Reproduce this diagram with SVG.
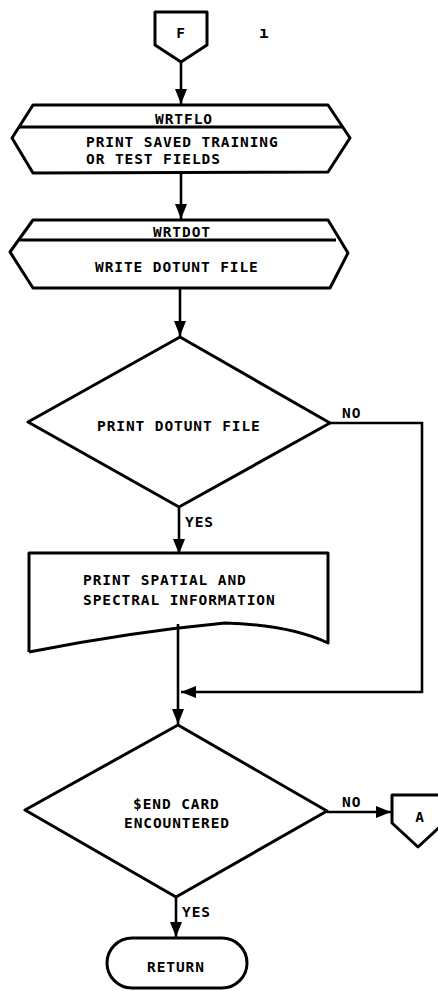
<svg xmlns="http://www.w3.org/2000/svg" width="438" height="991" viewBox="0 0 438 991">
<style>
.shape{fill:none;stroke:#000;stroke-width:3;stroke-linejoin:round}
.line{fill:none;stroke:#000;stroke-width:2.6}
.t{font-family:"DejaVu Sans Mono","Liberation Mono",monospace;font-weight:bold;font-size:14.5px;letter-spacing:0.9px;fill:#000}
.c{text-anchor:middle}
</style>
<defs>
<marker id="ah" markerWidth="15" markerHeight="12" refX="15" refY="6" orient="auto" markerUnits="userSpaceOnUse">
<path d="M0,0 L15,6 L0,12 Z" fill="#000"/>
</marker>
</defs>
<rect width="438" height="991" fill="#fff"/>
<g id="connectors">
<line class="line" x1="181" y1="62" x2="181" y2="104" marker-end="url(#ah)"/>
<line class="line" x1="181" y1="173" x2="181" y2="219" marker-end="url(#ah)"/>
<line class="line" x1="180" y1="288" x2="180" y2="336" marker-end="url(#ah)"/>
<line class="line" x1="179" y1="507" x2="179" y2="554" marker-end="url(#ah)"/>
<polyline class="line" points="330,423 422,423 422,692 181,692" marker-end="url(#ah)"/>
<line class="line" x1="178" y1="624" x2="178" y2="724" marker-end="url(#ah)"/>
<line class="line" x1="327" y1="812" x2="391" y2="812" marker-end="url(#ah)"/>
<line class="line" x1="176" y1="897" x2="176" y2="937" marker-end="url(#ah)"/>
<text class="t" x="342" y="418">NO</text>
<text class="t" x="185" y="527">YES</text>
<text class="t" x="342" y="807">NO</text>
<text class="t" x="182" y="917">YES</text>
</g>
<g id="connF">
<path class="shape" d="M155,12 L207,12 L207,45 L181,62 L155,45 Z"/>
<text class="t c" x="181" y="38">F</text>
<text class="t" x="259" y="38" style="font-size:16px">ı</text>
</g>
<g id="wrtflo">
<path class="shape" d="M33,105 L328,105 L350,138 L328,172 L33,173 L12,138 Z"/>
<line class="shape" x1="19" y1="127" x2="342" y2="127"/>
<text class="t c" x="184" y="124">WRTFLO</text>
<text class="t" x="86" y="147">PRINT SAVED TRAINING</text>
<text class="t" x="86" y="164">OR TEST FIELDS</text>
</g>
<g id="wrtdot">
<path class="shape" d="M33,220 L328,220 L348,253 L330,288 L33,288 L10,252 Z"/>
<line class="shape" x1="20" y1="240" x2="336" y2="240"/>
<text class="t c" x="182" y="237">WRTDOT</text>
<text class="t" x="95" y="272">WRITE DOTUNT FILE</text>
</g>
<g id="dec1">
<path class="shape" d="M180,337 L330,423 L179,507 L28,422 Z"/>
<text class="t" x="97" y="431">PRINT DOTUNT FILE</text>
</g>
<g id="doc">
<path class="shape" d="M29,652 L29,553 L328,553 L328,643 Q290,625 225,623 Q130,632 29,652"/>
<text class="t" x="83" y="585">PRINT SPATIAL AND</text>
<text class="t" x="83" y="605">SPECTRAL INFORMATION</text>
</g>
<g id="dec2">
<path class="shape" d="M178,725 L327,811 L176,897 L25,810 Z"/>
<text class="t" x="133" y="809">$END CARD</text>
<text class="t" x="124" y="828">ENCOUNTERED</text>
</g>
<g id="connA">
<path class="shape" d="M392,795 L444,795 L444,823 L418,847 L392,823 Z"/>
<text class="t c" x="420" y="822">A</text>
</g>
<g id="return">
<rect class="shape" x="107" y="938" width="140" height="50" rx="25" ry="25"/>
<text class="t" x="147" y="972">RETURN</text>
</g>
</svg>
